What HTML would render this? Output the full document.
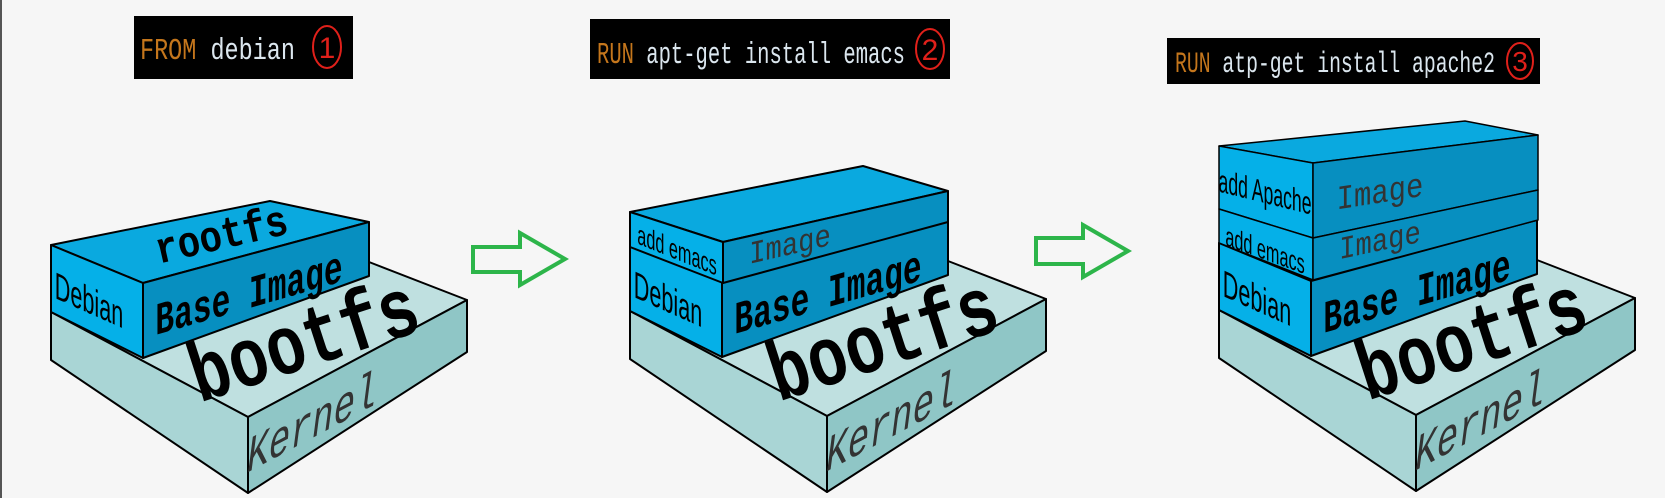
<!DOCTYPE html>
<html><head><meta charset="utf-8"><style>
html,body{margin:0;padding:0;background:#f6f6f6;}
svg{display:block;}
.m{font-family:"Liberation Mono",monospace;}
.s{font-family:"Liberation Sans",sans-serif;}
</style></head><body>
<svg width="1665" height="498" viewBox="0 0 1665 498" xmlns="http://www.w3.org/2000/svg">
<rect x="0" y="0" width="1665" height="498" fill="#f6f6f6"/>
<line x1="1" y1="0" x2="1" y2="498" stroke="#555" stroke-width="2"/>

<defs>
<g id="kernel" stroke="#000" stroke-width="2" stroke-linejoin="round">
  <polygon points="51,312 248,417 467,300 369,262 51,262" fill="#bfe0e0"/>
  <polygon points="51,312 248,417 248,493 51,360" fill="#a9d5d5"/>
  <polygon points="248,417 467,300 467,352 248,493" fill="#8fc6c6"/>
</g>
<g id="base" stroke="#000" stroke-width="2" stroke-linejoin="round">
  <polygon points="51,245 143,283 369,222 270,201" fill="#0aa9df"/>
  <polygon points="51,245 143,283 143,358 51,312" fill="#05b0e8"/>
  <polygon points="143,283 369,222 369,276 143,358" fill="#078fc0"/>
</g>
<g id="kt">
  <g transform="translate(312,425) skewY(-28)"><text class="m" font-size="40" fill="#333" text-anchor="middle" dominant-baseline="central" font-style="italic" transform="scale(0.9,1.25)">Kernel</text></g>
  <g transform="translate(305,345) rotate(-18)"><text class="m" font-size="84" font-weight="bold" fill="#000" text-anchor="middle" dominant-baseline="central" transform="scale(0.78,1)">bootfs</text></g>
</g>
<g id="bt">
  <g transform="translate(89,300) skewY(24)"><text class="s" font-size="36" fill="#000" text-anchor="middle" dominant-baseline="central" transform="scale(0.6,1.05)">Debian</text></g>
  <g transform="translate(249,296) skewY(-16)"><text class="m" font-size="40" font-weight="bold" fill="#000" text-anchor="middle" dominant-baseline="central" transform="scale(0.78,1.15)">Base Image</text></g>
</g>
</defs>

<!-- Stack 1 -->
<use href="#kernel"/>
<use href="#kt"/>
<use href="#base"/>
<use href="#bt"/>
<g transform="translate(222,238) rotate(-13)"><text class="m" font-size="44" font-weight="bold" fill="#000" text-anchor="middle" dominant-baseline="central" transform="scale(0.85,1)">rootfs</text></g>

<!-- Stack 2 -->
<g transform="translate(579,-1)">
  <use href="#kernel"/><use href="#kt"/><use href="#base"/><use href="#bt"/>
</g>
<g stroke="#000" stroke-width="2" stroke-linejoin="round">
  <polygon points="630,212 723,242 948,191 863,166" fill="#0aa9df"/>
  <polygon points="630,212 723,242 723,283 630,247" fill="#05b0e8"/>
  <polygon points="723,242 948,191 948,222 723,283" fill="#078fc0"/>
</g>
<g transform="translate(677,250) skewY(22)"><text class="s" font-size="28" fill="#000" text-anchor="middle" dominant-baseline="central" transform="scale(0.58,1)">add emacs</text></g>
<g transform="translate(790,247) skewY(-13)"><text class="m" font-size="32" fill="#333" text-anchor="middle" dominant-baseline="central" transform="scale(0.85,1)">Image</text></g>

<!-- Stack 3 -->
<g transform="translate(1168,-2)">
  <use href="#kernel"/><use href="#kt"/><use href="#base"/><use href="#bt"/>
</g>
<g stroke="#000" stroke-width="1.5" stroke-linejoin="round">
  <polygon points="1219,146 1313,163 1538,135 1465,121" fill="#0aa9df"/>
  <polygon points="1219,146 1313,163 1313,238 1219,209" fill="#05b0e8"/>
  <polygon points="1313,163 1538,135 1538,190 1313,238" fill="#078fc0"/>
  <polygon points="1219,209 1313,238 1313,280 1219,243" fill="#05b0e8"/>
  <polygon points="1313,238 1538,190 1538,220 1313,280" fill="#078fc0"/>
</g>
<g transform="translate(1265,192) skewY(14)"><text class="s" font-size="32" fill="#000" text-anchor="middle" dominant-baseline="central" transform="scale(0.55,1)">add Apache</text></g>
<g transform="translate(1380,194) skewY(-9)"><text class="m" font-size="34" fill="#333" text-anchor="middle" dominant-baseline="central" transform="scale(0.85,1)">Image</text></g>
<g transform="translate(1265,250) skewY(20)"><text class="s" font-size="28" fill="#000" text-anchor="middle" dominant-baseline="central" transform="scale(0.58,1)">add emacs</text></g>
<g transform="translate(1380,242) skewY(-12)"><text class="m" font-size="32" fill="#333" text-anchor="middle" dominant-baseline="central" transform="scale(0.85,1)">Image</text></g>

<!-- Arrows -->
<g fill="none" stroke="#2db54a" stroke-width="4" stroke-linejoin="miter">
  <polygon points="473,247 520,247 520,233 565,259 520,285 520,272 473,272"/>
  <polygon points="1036,238 1083,238 1083,225 1128,251 1083,277 1083,264 1036,264"/>
</g>

<!-- Labels -->
<rect x="134" y="16" width="219" height="63" fill="#000"/>
<text x="140" y="59" class="m" font-size="31" textLength="155" lengthAdjust="spacingAndGlyphs"><tspan fill="#c4761c">FROM</tspan><tspan fill="#dbe6ee"> debian</tspan></text>
<ellipse cx="327" cy="47" rx="14" ry="21" fill="none" stroke="#e0201a" stroke-width="2"/>
<text x="327" y="58" class="s" font-size="30" fill="#e0201a" text-anchor="middle">1</text>

<rect x="590" y="19" width="360" height="60" fill="#000"/>
<text x="597" y="63" class="m" font-size="31" textLength="308" lengthAdjust="spacingAndGlyphs"><tspan fill="#c4761c">RUN</tspan><tspan fill="#dbe6ee"> apt-get install emacs</tspan></text>
<ellipse cx="930" cy="49" rx="14" ry="20" fill="none" stroke="#e0201a" stroke-width="2"/>
<text x="930" y="60" class="s" font-size="30" fill="#e0201a" text-anchor="middle">2</text>

<rect x="1167" y="38" width="373" height="46" fill="#000"/>
<text x="1175" y="72" class="m" font-size="30" textLength="320" lengthAdjust="spacingAndGlyphs"><tspan fill="#c4761c">RUN</tspan><tspan fill="#dbe6ee"> atp-get install apache2</tspan></text>
<ellipse cx="1520" cy="61" rx="13" ry="18" fill="none" stroke="#e0201a" stroke-width="2"/>
<text x="1520" y="71" class="s" font-size="28" fill="#e0201a" text-anchor="middle">3</text>
</svg>
</body></html>
